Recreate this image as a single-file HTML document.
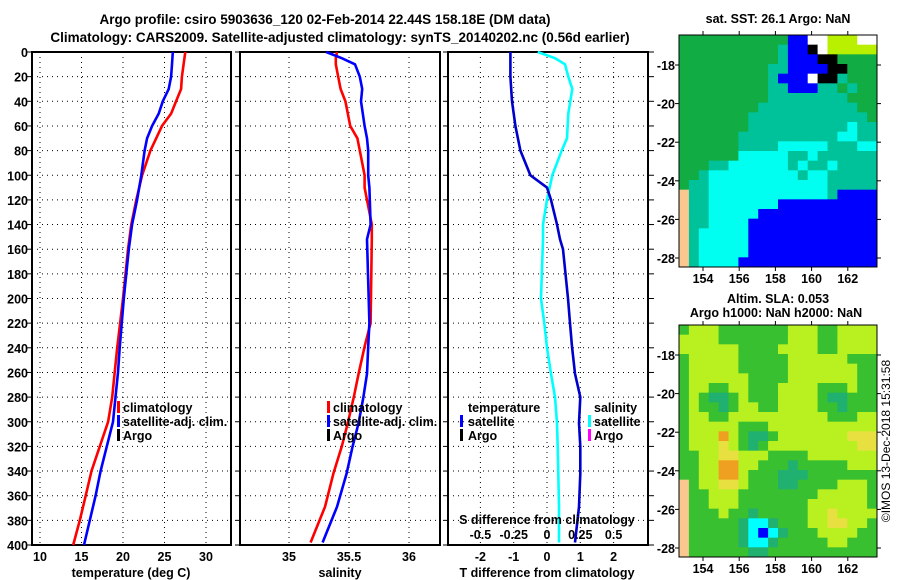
<!DOCTYPE html>
<html><head><meta charset="utf-8"><style>
body{margin:0;background:#fff}
svg{display:block;font-family:"Liberation Sans",sans-serif;font-weight:bold}
</style></head><body>
<svg id="s" width="900" height="580" viewBox="0 0 900 580">
<text x="325" y="24" font-size="13.5" text-anchor="middle">Argo profile: csiro 5903636_120 02-Feb-2014 22.44S 158.18E (DM data)</text>
<text x="340" y="42" font-size="13.5" text-anchor="middle">Climatology: CARS2009. Satellite-adjusted climatology: synTS_20140202.nc (0.56d earlier)</text>
<g id="g"></g>
<text x="895" y="446" font-size="12" text-anchor="middle" transform="rotate(-90 890 446)" font-weight="normal">©IMOS 13-Dec-2018 15:31:58</text>
</svg>
<script>
// depth levels (m)
const depthTicks=[0,20,40,60,80,100,120,140,160,180,200,220,240,260,280,300,320,340,360,380,400];
const tDepth=[0,10,20,30,40,50,60,70,80,100,120,140,160,200,240,260,280,300,340,360,380,400];
const tClim=[27.5,27.3,27.1,27.0,26.4,25.8,24.7,24.0,23.3,22.3,21.6,21.0,20.6,20.0,19.3,19.0,18.7,18.2,16.2,15.5,14.8,14.0];
const tSat=[26.0,25.9,25.8,25.5,24.8,24.3,23.5,22.9,22.6,22.2,21.7,21.1,20.7,20.1,19.6,19.4,19.1,18.8,17.3,16.7,16.0,15.3];
const sDepth=[0,5,10,20,30,40,60,70,80,100,110,140,152,220,239,261,280,301,320,342,369,398];
const sClim=[35.40,35.39,35.39,35.41,35.43,35.47,35.51,35.57,35.59,35.63,35.63,35.69,35.69,35.68,35.63,35.58,35.54,35.49,35.44,35.37,35.30,35.18];
const sSat=[35.31,35.44,35.55,35.59,35.61,35.60,35.63,35.65,35.66,35.66,35.67,35.68,35.65,35.67,35.66,35.65,35.62,35.58,35.53,35.48,35.40,35.28];
const dDepth=[0,20,40,60,80,100,110,120,140,152,160,200,220,239,261,280,301,320,342,369,398];
const tDiff=[-1.1,-1.1,-1.05,-0.95,-0.8,-0.5,0,0.12,0.3,0.39,0.48,0.63,0.69,0.75,0.84,1.0,0.96,1.0,1.0,0.96,0.84];
const sDiffDepth=[0,5,10,20,30,50,70,80,100,120,140,152,200,220,240,261,280,301,320,342,369,398];
const sDiff=[-0.07,0.06,0.135,0.16,0.19,0.16,0.15,0.11,0.04,0,-0.03,-0.03,-0.045,-0.02,0,0.03,0.06,0.075,0.08,0.085,0.09,0.09];
const tTicks=[10,15,20,25,30];
const sTicks=[35,35.5,36];
const tdTicks=[-2,-1,0,1,2];
const sdTicks=[-0.5,-0.25,0,0.25,0.5];
const NS='http://www.w3.org/2000/svg';
const G=document.getElementById('g');
function mk(t,a,p){const e=document.createElementNS(NS,t);for(const k in a)e.setAttribute(k,a[k]);(p||G).appendChild(e);return e;}
const Y=d=>52+d*(493/400);
const xT=v=>40+(v-10)*8.3;
const xS=v=>289+(v-35)*120;
const xTD=v=>547+v*33.3;
const xSD=v=>547+v*133.2;
const panels=[[32,231],[240,440],[448,648]];
panels.forEach((p,i)=>{
  const r=mk('rect',{x:p[0],y:52,width:p[1]-p[0],height:493,fill:'none',stroke:'#000','stroke-width':2});
  
  
  depthTicks.forEach(d=>{
    if(d>0&&d<400){const l=mk('line',{x1:p[0],x2:p[1],y1:Y(d),y2:Y(d),stroke:'#000','stroke-dasharray':'1 4','stroke-width':1});
    
    }
    const tk=mk('line',{x1:p[0]-5,x2:p[0],y1:Y(d),y2:Y(d),stroke:'#000','stroke-width':1});
    
    
    if(i==2){const t2=mk('line',{x1:p[1],x2:p[1]+6,y1:Y(d),y2:Y(d),stroke:'#000'});}
  });
});
depthTicks.forEach(d=>{const t=mk('text',{x:28,y:Y(d)+5,'font-size':12.5,'text-anchor':'end'});t.textContent=d;

});
function vgrid(vals,fx,lab,yl){vals.forEach(v=>{const x=fx(v);
 const l=mk('line',{x1:x,x2:x,y1:52,y2:545,stroke:'#000','stroke-dasharray':'1 4'});
 
 
 if(lab){const t=mk('text',{x:x,y:yl,'font-size':12.5,'text-anchor':'middle'});t.textContent=v;
 
 }});}
vgrid(tTicks,xT,1,561);vgrid(sTicks,xS,1,561);vgrid(tdTicks,xTD,1,561);
sdTicks.forEach(v=>{const t=mk('text',{x:xSD(v),y:539,'font-size':12.5,'text-anchor':'middle'});t.textContent=v;

});
function line(ds,vs,fx,col,name){const pts=ds.map((d,i)=>fx(vs[i]).toFixed(1)+','+Y(d).toFixed(1)).join(' ');
 const e=mk('polyline',{points:pts,fill:'none',stroke:col,'stroke-width':2.6});
 
 }
line(tDepth,tClim,xT,'#f00','temperature-climatology-line');
line(tDepth,tSat,xT,'#00f','temperature-satellite-line');
line(sDepth,sClim,xS,'#f00','salinity-climatology-line');
line(sDepth,sSat,xS,'#00f','salinity-satellite-line');
line(sDiffDepth,sDiff,xSD,'#0ff','salinity-difference-line');
line(dDepth,tDiff,xTD,'#00c','temperature-difference-line');
function txt(x,y,s,name,anc,sz){const t=mk('text',{x:x,y:y,'font-size':sz||12.5,'text-anchor':anc||'start'});t.textContent=s;
 
 return t;}
function bar(x,y,c,name){const r=mk('rect',{x:x,y:y-10,width:3,height:12,fill:c});
 
 }
[[117,'lg1'],[327,'lg2']].forEach(([lx,n])=>{
 bar(lx,411,'#f00',n+'-climatology-swatch');txt(lx+6,412,'climatology',n+'-climatology-label');
 bar(lx,425,'#00f',n+'-satellite-swatch');txt(lx+6,426,'satellite-adj. clim.',n+'-satellite-label');
 bar(lx,439,'#000',n+'-argo-swatch');txt(lx+6,440,'Argo',n+'-argo-label');
});
txt(468,412,'temperature','legend-temperature-heading');
bar(460,425,'#00f','legend-temp-satellite-swatch');txt(468,426,'satellite','legend-temp-satellite-label');
bar(460,439,'#000','legend-temp-argo-swatch');txt(468,440,'Argo','legend-temp-argo-label');
txt(594,412,'salinity','legend-salinity-heading');
bar(588,425,'#0ff','legend-sal-satellite-swatch');txt(594,426,'satellite','legend-sal-satellite-label');
bar(588,439,'#f0f','legend-sal-argo-swatch');txt(594,440,'Argo','legend-sal-argo-label');
txt(547,524,'S difference from climatology','s-diff-axis-title','middle');
txt(131,577,'temperature (deg C)','temperature-axis-title','middle');
txt(340,577,'salinity','salinity-axis-title','middle');
txt(547,577,'T difference from climatology','t-diff-axis-title','middle');
// maps
const sstCols={G:'#12ac44',T:'#00c29a',C:'#00fff0',B:'#0000ff',K:'#000',W:'#fff',Y:'#b8f000',L:'#f8c890'};
const sstGrid=["GGGGGGGGGGGBBWWYYYWW","GGGGGGGGGGTBBKWYYYYY","GGGGGGGGGGTBBBKKGGGG","GGGGGGGGGTTBBBBKKGGG","GGGGGGGGGTBBBWKKTGGG","GGGGGGGGGTTBBBTTGTGG","GGGGGGGGGTTTTTTTTGGG","GGGGGGGGTTTTTTTTTTGG","GGGGGGGTTTTTTTTTTTTG","GGGGGGGTTTTTTTTTTCTT","GGGGGGTTTTTTTTTTCCTT","GGGGGGTTTTCCCCCTTTCC","GGGGGGCCCCCTTCTTTTTT","GGGTTCCCCCCTCTTCTTTT","GGTCCCCCCCCCTCCTTTTT","GTTCCCCCCCCCCCCTTTTT","LTTCCCCCCCCCCCCTBBBB","LTTCCCCCCCBBBBBBBBBB","LTTCCCCCBBBBBBBBBBBB","LTTCCCCBBBBBBBBBBBBB","LTCCCCCBBBBBBBBBBBBB","LTCCCCCBBBBBBBBBBBBB","LTCCCCCBBBBBBBBBBBBB","LTCCCCBBBBBBBBBBBBBB"];
const slaCols={G:'#38c030',Y:'#b8f020',E:'#e8e040',O:'#f0a020',T:'#20b070',C:'#00ffff',B:'#0000ff',L:'#f8c890'};
const slaGrid=["GYYYGGGGGGGYYYGGYYYY","YYYYGGGGGGGYYYGGYYYY","YYYYYYGGGGYYYYGGYYYY","GYYYYYGGGGGYYYYYYGGG","GYYYYYGGGGGYYYYYYYGG","GYYYYYYGGGGYYYYYYYGG","GYYGGYYGGGYYYYGGGYGG","GYGTTGYGGGYYYYGTTGGG","GYGGTGYYGGYYYYGGTGGG","GYYGGYYYYYYYYYYGGGYY","GYYYYYGGGYYYYYYYYYYY","GYYYOYGTTGYYYYYYYEEE","GYYYEYGTGYYYYYYYYYEE","GGYYEEYYYGGGGYYYYYYY","GGYYOOYYGGGTGGGGGYYY","GGYYOOYGGGTTTGGGGGGG","LGYYEEYGGGTTGGGGYYYG","LGGYYYGGGGGGGGYYYYYG","LGGYYYGGGGGGGYYYYYYG","LGGGYGGTGGGGGYYEYYYY","LGGGGGTCCTGGGYYEEYYG","LGGGGGTCBCTGGGYYYYGG","LGGGGGTCCTGGGGGYYGGG","LGGGGGGTTGGGGGGGGGGG"];
const lonTicks=[154,156,158,160,162];
const latTicks=[-18,-20,-22,-24,-26,-28];
function map(top,grid,cols,name){
 const x0=679,x1=877,y1=top+232,cw=(x1-x0)/20,ch=(y1-top)/24;
 grid.forEach((row,r)=>{[...row].forEach((c,k)=>{
  const e=mk('rect',{x:(x0+k*cw).toFixed(2),y:(top+r*ch).toFixed(2),width:(cw+0.4).toFixed(2),height:(ch+0.4).toFixed(2),fill:cols[c]});
  
  
 });});
 const f=mk('rect',{x:x0,y:top,width:x1-x0,height:y1-top,fill:'none',stroke:'#000','stroke-width':1});
 
 
 lonTicks.forEach(v=>{const x=703+(v-154)*18.1;
  mk('line',{x1:x,x2:x,y1:top-4,y2:top,stroke:'#000'});mk('line',{x1:x,x2:x,y1:y1,y2:y1+4,stroke:'#000'});
  txt(x,y1+16,v,name+'-lon-label','middle');});
 latTicks.forEach(v=>{const y=top+30+(-18-v)*19.3;
  mk('line',{x1:x0-4,x2:x0,y1:y,y2:y,stroke:'#000'});mk('line',{x1:x1,x2:x1+4,y1:y,y2:y,stroke:'#000'});
  txt(x0-4,y+5,v,name+'-lat-label','end');});
}
map(35,sstGrid,sstCols,'sst-map');
map(325,slaGrid,slaCols,'sla-map');
txt(778,23,'sat. SST: 26.1 Argo: NaN','sst-map-title','middle');
txt(778,303,'Altim. SLA: 0.053','sla-map-title','middle');
txt(776,317,'Argo h1000: NaN h2000: NaN','sla-map-subtitle','middle');
</script>
</body></html>
